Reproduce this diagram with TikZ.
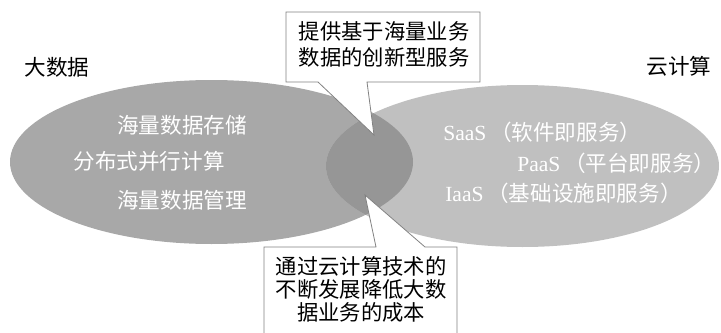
\documentclass[tikz,border=0pt]{standalone}
\usepackage{fontspec}
\setmainfont{Liberation Serif}
\newfontfamily\cjk{Noto Sans CJK SC}
\definecolor{leftgray}{RGB}{168,168,168}
\definecolor{rightgray}{RGB}{192,192,192}
\definecolor{midgray}{RGB}{150,150,150}
\definecolor{edgegray}{RGB}{130,130,130}
\begin{document}
\begin{tikzpicture}[x=0.75pt,y=-0.75pt,
  lbl/.style={font=\cjk\fontsize{16.2}{17}\selectfont, inner sep=0pt, text=black},
  inlbl/.style={font=\fontsize{16.2}{17}\selectfont, inner sep=0pt, text=white},
  callout/.style={draw=edgegray, line width=0.6pt, fill=white, line join=miter},
  boxtxt/.style={font=\cjk\fontsize{16}{16.8}\selectfont, inner sep=0pt, align=center, text=black}]
\useasboundingbox (0,0) rectangle (721,332);
\clip (0,0) rectangle (721,332);
% ellipses
\fill[leftgray] (211.5,162) ellipse [x radius=201.5, y radius=82];
\fill[rightgray] (522.5,166) ellipse [x radius=196.5, y radius=81];
\begin{scope}
  \clip (211.5,162) ellipse [x radius=201.5, y radius=82];
  \fill[midgray] (522.5,166) ellipse [x radius=196.5, y radius=81];
\end{scope}
\node[draw=none, minimum size=0pt, inner sep=0pt] (bigdata) at (211.5,162) {};
\node[draw=none, minimum size=0pt, inner sep=0pt] (cloud) at (522.5,166) {};
% titles
\node[lbl] (tbig) at (57,67) {大数据};
\node[lbl] (tcloud) at (679,66) {云计算};
% inner texts left
\node[inlbl] (l1) at (182,125) {\cjk 海量数据存储};
\node[inlbl] (l2) at (149,161) {\cjk 分布式并行计算};
\node[inlbl] (l3) at (182,200) {\cjk 海量数据管理};
% inner texts right
\node[inlbl, anchor=west] (r1) at (443,132) {SaaS\,{\cjk （软件即服务）}};
\node[inlbl, anchor=west] (r2) at (517,163) {PaaS\,{\cjk （平台即服务）}};
\node[inlbl, anchor=west] (r3) at (445,193) {IaaS\,{\cjk （基础设施即服务）}};
% top callout
\coordinate (tiptop) at (374,135);
\draw[callout] (286,12) -- (480,12) -- (480,82) -- (367,82) -- (tiptop) -- (318,82) -- (286,82) -- cycle;
\node[boxtxt] (topbox) at (384,44.5) {提供基于海量业务\\[3pt]数据的创新型服务};
% bottom callout
\coordinate (tipbot) at (365,195);
\draw[callout] (264,345) -- (264,247) -- (376,247) -- (tipbot) -- (425,247) -- (457,247) -- (457,345);
\node[boxtxt] (botbox) at (361,289) {通过云计算技术的\\[0.5pt]不断发展降低大数\\[0.5pt]据业务的成本};
\end{tikzpicture}
\end{document}
